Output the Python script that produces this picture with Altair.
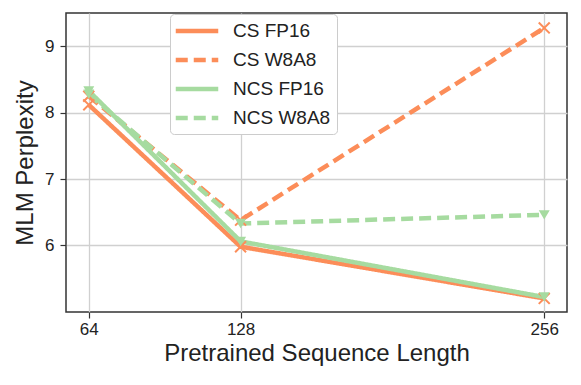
import altair as alt
import pandas as pd

lengths = [64, 128, 256]
series_names = ["CS FP16", "CS W8A8", "NCS FP16", "NCS W8A8"]
cs_fp16 = [8.12, 5.98, 5.20]
cs_w8a8 = [8.25, 6.38, 9.28]
ncs_fp16 = [8.33, 6.06, 5.22]
ncs_w8a8 = [8.28, 6.33, 6.46]

orange = "#fc8d59"
green = "#a6dba0"
colors = [orange, orange, green, green]
dashes = [[1, 0], [12, 6], [1, 0], [12, 6]]
xpath = "M-1,-1L1,1M1,-1L-1,1"
shapes = [xpath, xpath, "triangle-down", "triangle-down"]

rows = []
for name, vals in zip(series_names, [cs_fp16, cs_w8a8, ncs_fp16, ncs_w8a8]):
    for L, v in zip(lengths, vals):
        rows.append({"series": name, "length": L, "ppl": v})
df = pd.DataFrame(rows)

x = alt.X("length:Q", title="Pretrained Sequence Length",
          scale=alt.Scale(domain=[54.4, 265.6], nice=False, zero=False),
          axis=alt.Axis(values=lengths, format="d"))
y = alt.Y("ppl:Q", title="MLM Perplexity",
          scale=alt.Scale(domain=[4.995, 9.505], nice=False, zero=False),
          axis=alt.Axis(values=[6, 7, 8, 9], format="d"))

color = alt.Color("series:N", scale=alt.Scale(domain=series_names, range=colors),
                  legend=alt.Legend(title=None, orient="none", legendX=104, legendY=1,
                                    symbolType="M-2.5,0L2.5,0", symbolStrokeWidth=4.5,
                                    symbolSize=289, labelFontSize=19,
                                    labelFont="Liberation Sans", labelColor="#222",
                                    rowPadding=8, padding=6, strokeColor="#cccccc",
                                    fillColor="white", cornerRadius=4,
                                    labelOffset=25, symbolOffset=10))
dash = alt.StrokeDash("series:N", scale=alt.Scale(domain=series_names, range=dashes),
                      legend=None)

lines = alt.Chart(df).mark_line(strokeWidth=4.5).encode(
    x=x, y=y, color=color, strokeDash=dash, detail="series:N")

layers = [lines]
for name, col, shp in zip(series_names, colors, shapes):
    filled = shp != xpath
    pt = alt.Chart(df).transform_filter(alt.datum.series == name).mark_point(
        shape=shp, size=120, strokeWidth=2, opacity=1,
        filled=filled, color=col,
    ).encode(x=x, y=y)
    layers.append(pt)

chart = alt.layer(*layers).properties(
    width=501, height=299,
    padding={"left": 5, "top": 5, "right": 5, "bottom": 5},
).configure_view(
    stroke="#333333", strokeWidth=1.5
).configure_axis(
    labelFont="Liberation Sans", titleFont="Liberation Sans",
    labelFontSize=17, titleFontSize=24, titleFontWeight="normal",
    labelColor="#222", titleColor="#222",
    grid=True, gridColor="#d0d0d0", gridWidth=1.3,
    domain=False, tickColor="#333", tickSize=6, tickWidth=1.2,
).configure_axisX(labelPadding=3, titlePadding=4).configure_axisY(labelPadding=6, titlePadding=7)

chart.save("out.html", embed_options={"renderer": "svg", "actions": False})
